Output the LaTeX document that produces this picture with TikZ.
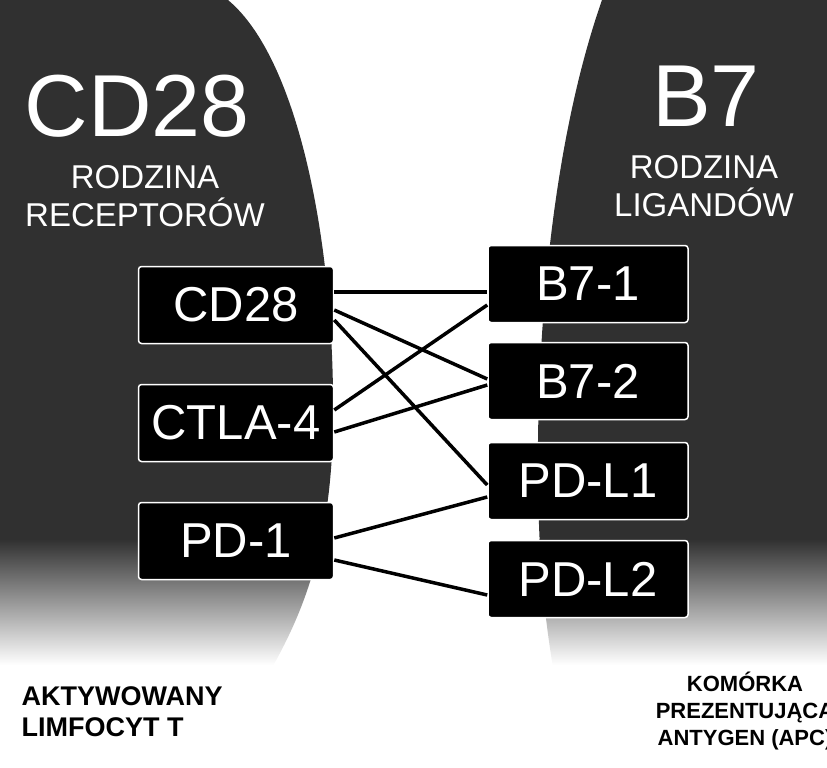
\documentclass[tikz,border=0pt]{standalone}
\usepackage{fontspec}
\setmainfont{Liberation Sans}
\begin{document}
\begin{tikzpicture}[x=1pt,y=-1pt,
  bx/.style={draw=white,line width=1.5pt,fill=black,rounded corners=3pt,minimum width=195pt,minimum height=77pt,text=white,font=\fontsize{49}{50}\selectfont,inner sep=0pt},
  ln/.style={line width=3.5pt}]
\useasboundingbox (0,0) rectangle (827,768);
\definecolor{dk}{HTML}{303030}
\begin{scope}
\clip (0,0) -- (228,0) .. controls (300,60) and (335,250) .. (333,420) .. controls (332,550) and (300,620) .. (265,680) -- (0,680) -- cycle;
\fill[dk] (0,0) rectangle (827,540);
\shade[top color=dk,bottom color=white] (0,539) rectangle (827,665);
\end{scope}
\begin{scope}
\clip (827,0) -- (602,0) .. controls (560,120) and (540,280) .. (538,440) .. controls (537,560) and (545,620) .. (555,680) -- (827,680) -- cycle;
\fill[dk] (0,0) rectangle (827,540);
\shade[top color=dk,bottom color=white] (0,539) rectangle (827,665);
\end{scope}
\node[text=white,font=\fontsize{88}{90}\selectfont] (t1) at (137,106) {CD28};
\node[text=white,font=\fontsize{33}{38}\selectfont,align=center] (s1) at (145,196) {RODZINA\\RECEPTORÓW};
\node[text=white,font=\fontsize{88}{90}\selectfont] (t2) at (706,96) {B7};
\node[text=white,font=\fontsize{33}{38}\selectfont,align=center] (s2) at (704,186) {RODZINA\\LIGANDÓW};
\node[bx] (a) at (236,305) {CD28};
\node[bx] (b) at (236,423) {CTLA-4};
\node[bx] (c) at (236,541) {PD-1};
\node[bx,minimum width=200pt] (d) at (588,284) {B7-1};
\node[bx,minimum width=200pt] (e) at (588,381) {B7-2};
\node[bx,minimum width=200pt] (f) at (588,481) {PD-L1};
\node[bx,minimum width=200pt] (g) at (588,579) {PD-L2};
\draw[ln] ([yshift=13pt]a.east) -- ([yshift=-8pt]d.west);
\draw[ln] ([yshift=-5pt]a.east) -- ([yshift=2pt]e.west);
\draw[ln] ([yshift=-15pt]a.east) -- ([yshift=-4pt]f.west);
\draw[ln] ([yshift=13pt]b.east) -- ([yshift=-21pt]d.west);
\draw[ln] ([yshift=-9pt]b.east) -- ([yshift=-4pt]e.west);
\draw[ln] ([yshift=3pt]c.east) -- ([yshift=-16pt]f.west);
\draw[ln] ([yshift=-19pt]c.east) -- ([yshift=-16pt]g.west);
\node[font=\fontsize{27}{31}\selectfont\bfseries,align=left,anchor=west] (l) at (18,712) {AKTYWOWANY\\LIMFOCYT T};
\node[font=\fontsize{22}{27}\selectfont\bfseries,align=center] (r) at (745,711) {KOMÓRKA\\PREZENTUJĄCA\\ANTYGEN (APC)};
\end{tikzpicture}
\end{document}
